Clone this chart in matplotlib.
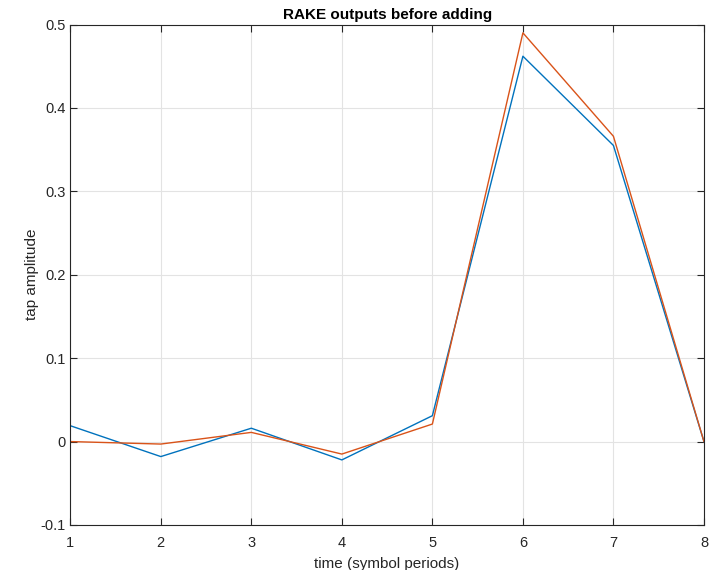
import matplotlib
matplotlib.use("Agg")
import matplotlib.pyplot as plt

# symbol periods
t = [1, 2, 3, 4, 5, 6, 7, 8]

# two RAKE finger outputs
rake_a = [0.019, -0.018, 0.016, -0.022, 0.031, 0.462, 0.355, 0.0]
rake_b = [0.0, -0.003, 0.011, -0.015, 0.021, 0.490, 0.366, 0.0]

x_ticks = [1, 2, 3, 4, 5, 6, 7, 8]
y_ticks = [-0.1, 0, 0.1, 0.2, 0.3, 0.4, 0.5]
y_labels = ["-0.1", "0", "0.1", "0.2", "0.3", "0.4", "0.5"]

plt.rcParams["font.family"] = ["Liberation Sans", "DejaVu Sans"]

fig = plt.figure(figsize=(7.12, 5.7), dpi=100)
ax = fig.add_axes([0.0987, 0.079, 0.89, 0.878])

ax.plot(t, rake_a, color="#0072BD", linewidth=1.0)
ax.plot(t, rake_b, color="#D95319", linewidth=1.0)

ax.set_xlim(1, 8)
ax.set_ylim(-0.1, 0.5)
ax.set_xticks(x_ticks)
ax.set_yticks(y_ticks)
ax.set_yticklabels(y_labels)

ax.grid(True, color="#e3e3e3", linewidth=0.8)
ax.set_axisbelow(True)
ax.tick_params(direction="in", top=True, right=True, labelsize=10.5,
               colors="#262626", length=5, width=0.8)
ax.tick_params(axis="x", pad=8)
for s in ax.spines.values():
    s.set_color("#262626")
    s.set_linewidth(0.8)

ax.set_title("RAKE outputs before adding", fontsize=11, fontweight="bold", pad=4)
ax.set_xlabel("time (symbol periods)", fontsize=11, color="#262626", labelpad=5)
ax.set_ylabel("tap amplitude", fontsize=11, color="#262626", labelpad=1)

fig.savefig("out.png", dpi=100)
